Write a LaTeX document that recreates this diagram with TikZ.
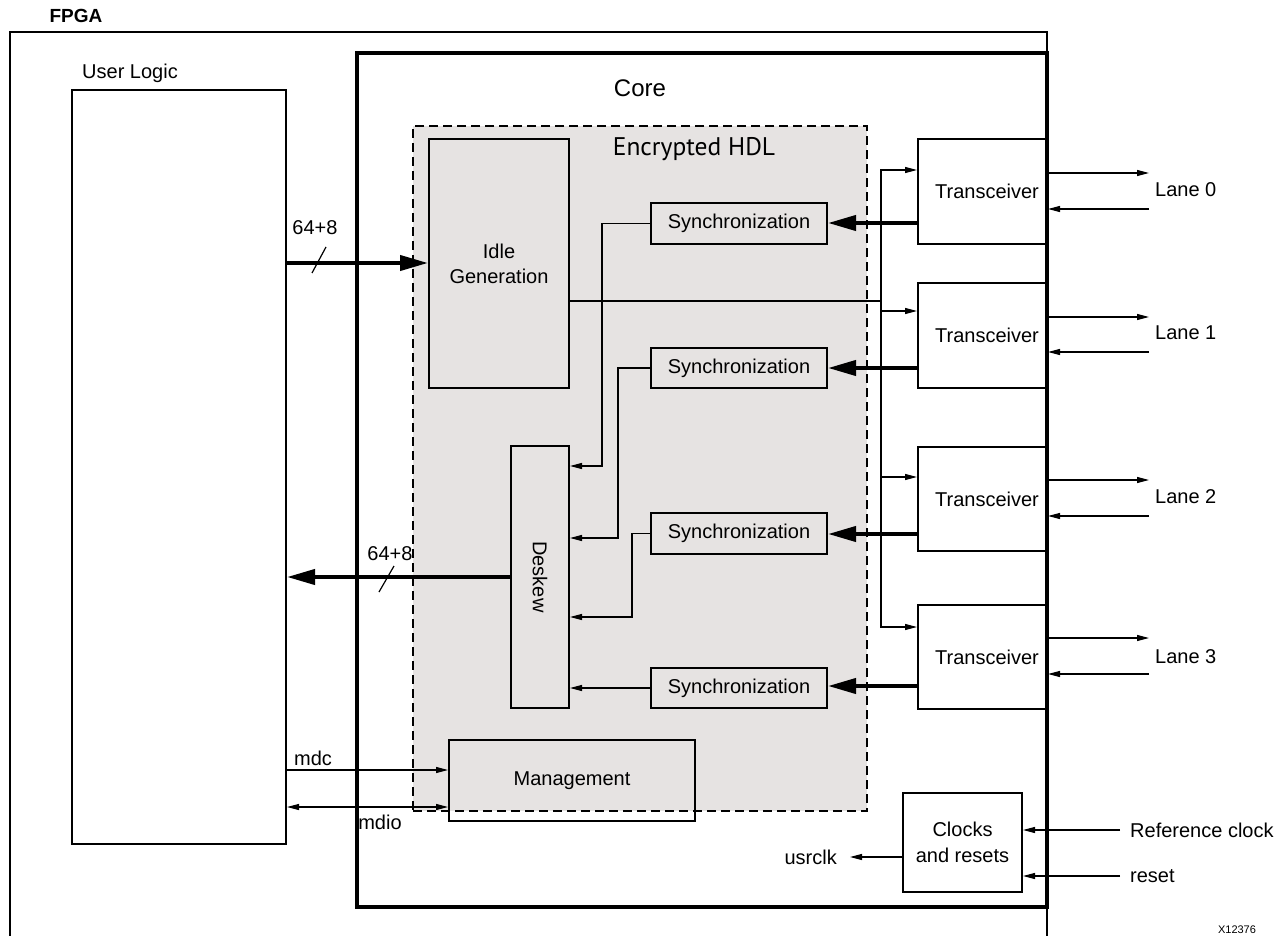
\documentclass[tikz,border=0pt]{standalone}
\usepackage{fontspec}
\setmainfont{Liberation Sans}
\newfontfamily\encfont{PT Sans}
\usetikzlibrary{arrows.meta}
\definecolor{encgray}{RGB}{230,227,226}
\begin{document}
\begin{tikzpicture}[x=1pt,y=-1pt,
  lab/.style={font=\fontsize{20}{24}\selectfont, inner sep=0pt},
  box/.style={draw, line width=2pt, inner sep=0pt, font=\fontsize{20}{25}\selectfont, align=center},
  thinln/.style={line width=1.2pt},
  bigarrow/.style={line width=4pt, -{Triangle[length=28pt,width=15pt]}},
  smallarrow/.style={line width=1.2pt, -{Triangle[length=12pt,width=6pt]}},
  dblarrow/.style={line width=1.2pt, {Triangle[length=12pt,width=6pt]}-{Triangle[length=12pt,width=6pt]}},
]
\useasboundingbox (0,0) rectangle (1285,936);
% FPGA frame
\draw[line width=1.5pt] (10,945) -- (10,32) -- (1047,32) -- (1047,945);
\node[lab, font=\bfseries\fontsize{19}{22}\selectfont] (fpga) at (76,16) {FPGA};
% user logic
\node[box, minimum width=214pt, minimum height=754pt] (ul) at (179,467) {};
\node[lab, anchor=west] (ullab) at (82,73) {User Logic};
% core
\node[draw, line width=4pt, inner sep=0pt, minimum width=690pt, minimum height=854pt] (core) at (702,480) {};
\node[lab, font=\fontsize{24}{28}\selectfont] (corelab) at (640,88) {Core};
% encrypted region
\node[draw, fill=encgray, line width=1.2pt, dash pattern=on 9pt off 5pt, inner sep=0pt, minimum width=454pt, minimum height=685pt] (enc) at (640,468.5) {};
\node[lab, font=\encfont\fontsize{25.5}{29}\selectfont] (enclab) at (694,149) {Encrypted HDL};
% blocks
\node[box, minimum width=140pt, minimum height=249pt] (idle) at (499,263.5) {Idle\\Generation};
\node[box, minimum width=176pt, minimum height=41pt] (s1) at (739,223.5) {Synchronization};
\node[box, minimum width=176pt, minimum height=40pt] (s2) at (739,368) {Synchronization};
\node[box, minimum width=176pt, minimum height=41pt] (s3) at (739,533.5) {Synchronization};
\node[box, minimum width=176pt, minimum height=40pt] (s4) at (739,688) {Synchronization};
\node[box, minimum width=58pt, minimum height=262pt] (desk) at (540,577) {\rotatebox{-90}{\raisebox{0pt}{Deskew}}};
\node[box, minimum width=246pt, minimum height=81pt] (mgmt) at (572,780.5) {Management};
\node[box, minimum width=129pt, minimum height=105pt] (t0) at (982.5,191.5) {\hspace{9pt}Transceiver};
\node[box, minimum width=129pt, minimum height=105pt] (t1) at (982.5,335.5) {\hspace{9pt}Transceiver};
\node[box, minimum width=129pt, minimum height=104pt] (t2) at (982.5,499) {\hspace{9pt}Transceiver};
\node[box, minimum width=129pt, minimum height=104pt] (t3) at (982.5,657) {\hspace{9pt}Transceiver};
\node[box, font=\fontsize{20}{26.5}\selectfont, minimum width=119pt, minimum height=99pt] (clk) at (962.5,842.5) {Clocks\\and resets};
% data path 64+8
\draw[bigarrow] (ul.east |- 0,263) -- (idle.west |- 0,263);
\draw[thinln] (312,273) -- (326,247);
\node[lab] (w1) at (315,228) {64+8};
\draw[bigarrow] (desk.west) -- (ul.east |- desk.west);
\draw[thinln] (379,592) -- (394,566);
\node[lab] (w2) at (390,554) {64+8};
% transceivers to sync
\draw[bigarrow] (t0.west |- 0,223) -- (s1.east |- 0,223);
\draw[bigarrow] (t1.west |- 0,368) -- (s2.east |- 0,368);
\draw[bigarrow] (t2.west |- 0,534) -- (s3.east |- 0,534);
\draw[bigarrow] (t3.west |- 0,686) -- (s4.east |- 0,686);
% sync to deskew
\draw[smallarrow] (s1.west) -- ++(-48,0) |- (desk.east |- 0,466);
\draw[smallarrow] (s2.west) -- ++(-32,0) |- (desk.east |- 0,538);
\draw[smallarrow] (s3.west) -- ++(-18,0) |- (desk.east |- 0,617);
\draw[smallarrow] (s4.west) -- (desk.east |- s4.west);
% idle generation bus
\coordinate (bus) at (881,301);
\draw[thinln] (idle.east |- bus) -- (bus);
\draw[smallarrow] (bus) |- (t0.west |- 0,170);
\draw[smallarrow] (bus) |- (t1.west |- 0,311);
\draw[smallarrow] (bus) |- (t2.west |- 0,477);
\draw[smallarrow] (bus) |- (t3.west |- 0,627);
% lanes
\coordinate (l0o) at (1149,173); \coordinate (l0i) at (1149,209);
\coordinate (l1o) at (1149,317); \coordinate (l1i) at (1149,352);
\coordinate (l2o) at (1149,480); \coordinate (l2i) at (1149,516);
\coordinate (l3o) at (1149,638); \coordinate (l3i) at (1149,674);
\draw[smallarrow] (t0.east |- l0o) -- (l0o);
\draw[smallarrow] (l0i) -- (t0.east |- l0i);
\draw[smallarrow] (t1.east |- l1o) -- (l1o);
\draw[smallarrow] (l1i) -- (t1.east |- l1i);
\draw[smallarrow] (t2.east |- l2o) -- (l2o);
\draw[smallarrow] (l2i) -- (t2.east |- l2i);
\draw[smallarrow] (t3.east |- l3o) -- (l3o);
\draw[smallarrow] (l3i) -- (t3.east |- l3i);
\node[lab, anchor=west] (lane0) at (1155,190) {Lane 0};
\node[lab, anchor=west] (lane1) at (1155,333) {Lane 1};
\node[lab, anchor=west] (lane2) at (1155,497) {Lane 2};
\node[lab, anchor=west] (lane3) at (1155,657) {Lane 3};
% management
\draw[smallarrow] (ul.east |- 0,770) -- (mgmt.west |- 0,770);
\draw[dblarrow] (ul.east |- 0,807) -- (mgmt.west |- 0,807);
\node[lab] (mdc) at (313,758) {mdc};
\node[lab] (mdio) at (380,822) {mdio};
% clocks
\coordinate (refin) at (1120,830);
\coordinate (rstin) at (1120,876);
\coordinate (usrout) at (850,857);
\draw[smallarrow] (refin) -- (clk.east |- refin);
\draw[smallarrow] (rstin) -- (clk.east |- rstin);
\draw[smallarrow] (clk.west |- usrout) -- (usrout);
\node[lab, anchor=west] (refl) at (1130,830) {Reference clock};
\node[lab, anchor=west] (rstl) at (1130,876) {reset};
\node[lab, anchor=east] (usrl) at (837,857) {usrclk};
\node[lab, font=\fontsize{11}{13}\selectfont, anchor=south] (fig) at (1237,934) {X12376};
\end{tikzpicture}
\end{document}
